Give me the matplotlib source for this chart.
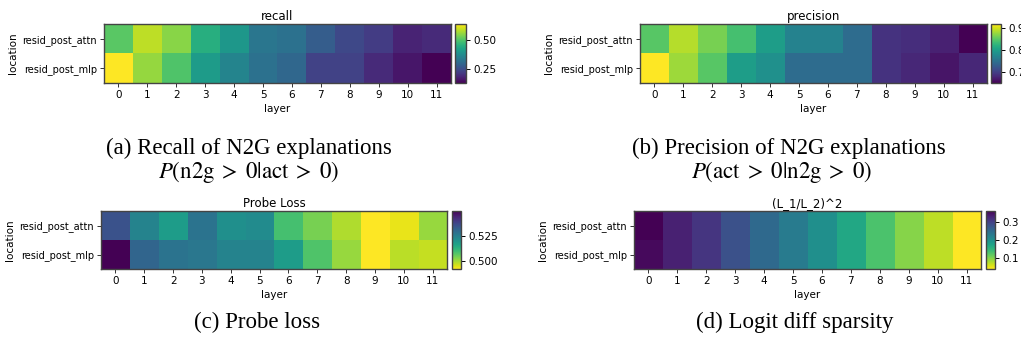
import numpy as np
import matplotlib.pyplot as plt

plt.rcParams['mathtext.fontset'] = 'stix'

layers = list(range(12))
locations = ["resid_post_attn", "resid_post_mlp"]

recall_attn = [0.51, 0.59, 0.55, 0.45, 0.40, 0.33, 0.32, 0.28, 0.24, 0.22, 0.18, 0.19]
recall_mlp = [0.64, 0.56, 0.50, 0.41, 0.36, 0.32, 0.30, 0.23, 0.23, 0.19, 0.16, 0.13]

precision_attn = [0.85, 0.89, 0.865, 0.84, 0.80, 0.77, 0.77, 0.745, 0.69, 0.685, 0.675, 0.65]
precision_mlp = [0.92, 0.88, 0.85, 0.80, 0.785, 0.745, 0.745, 0.745, 0.69, 0.68, 0.665, 0.68]

probe_attn = [0.5355, 0.524, 0.518, 0.528, 0.521, 0.522, 0.509, 0.504, 0.499, 0.492, 0.494, 0.501]
probe_mlp = [0.550, 0.531, 0.528, 0.527, 0.524, 0.524, 0.518, 0.508, 0.501, 0.492, 0.498, 0.497]

l1l2_attn = [0.360, 0.330, 0.310, 0.280, 0.250, 0.226, 0.200, 0.168, 0.130, 0.097, 0.071, 0.039]
l1l2_mlp = [0.352, 0.330, 0.310, 0.280, 0.250, 0.226, 0.200, 0.168, 0.130, 0.097, 0.071, 0.039]

W, H = 1021, 346
fig = plt.figure(figsize=(W / 100, H / 100), dpi=100)


def px_axes(x0, y0, x1, y1):
    return fig.add_axes([x0 / W, 1 - y1 / H, (x1 - x0) / W, (y1 - y0) / H])


def heatmap(box, cbox, data, title, cmap, ticks, fmt):
    ax = px_axes(*box)
    im = ax.imshow(np.array(data), aspect='auto', cmap=cmap, interpolation='nearest')
    ax.set_title(title, fontsize=8.5, pad=3)
    ax.set_xticks(layers)
    ax.set_xticklabels([str(l) for l in layers], fontsize=7.5)
    ax.set_yticks(range(len(locations)))
    ax.set_yticklabels(locations, fontsize=7)
    ax.set_xlabel("layer", fontsize=7.5, labelpad=3)
    ax.set_ylabel("location", fontsize=7.5, labelpad=3)
    ax.tick_params(length=3, width=0.7, pad=2, color='#333333')
    for s in ax.spines.values():
        s.set_color('#444444')
        s.set_linewidth(1.0)
    cax = px_axes(*cbox)
    cb = fig.colorbar(im, cax=cax, ticks=ticks, format=fmt)
    cb.ax.tick_params(labelsize=7.5, length=3, width=0.7, pad=2)
    cb.outline.set_edgecolor('#444444')
    cb.outline.set_linewidth(1.0)
    return ax


heatmap((104, 24, 451, 83), (455, 24, 466, 83), [recall_attn, recall_mlp],
        "recall", 'viridis', [0.25, 0.50], '%.2f')
heatmap((640, 24, 987, 83), (991, 24, 1001, 83), [precision_attn, precision_mlp],
        "precision", 'viridis', [0.7, 0.8, 0.9], '%.1f')
heatmap((101, 211, 447, 269), (452, 211, 461, 269), [probe_attn, probe_mlp],
        "Probe Loss", 'viridis_r', [0.500, 0.525], '%.3f')
heatmap((634, 211, 981, 269), (986, 211, 995, 269), [l1l2_attn, l1l2_mlp],
        "(L_1/L_2)^2", 'viridis_r', [0.1, 0.2, 0.3], '%.1f')

cap = dict(ha='center', va='center', fontsize=16.5, family='Liberation Serif')
fig.text(249 / W, 1 - 148 / H, "(a) Recall of N2G explanations", **cap)
fig.text(249 / W, 1 - 172 / H, r"$P(\mathrm{n2g}\;>\;0|\mathrm{act}\;>\;0)$", **cap)
fig.text(789 / W, 1 - 148 / H, "(b) Precision of N2G explanations", **cap)
fig.text(782 / W, 1 - 172 / H, r"$P(\mathrm{act}\;>\;0|\mathrm{n2g}\;>\;0)$", **cap)
fig.text(257 / W, 1 - 322 / H, "(c) Probe loss", **cap)
fig.text(795 / W, 1 - 322 / H, "(d) Logit diff sparsity", **cap)

fig.savefig("out.png", dpi=100)
